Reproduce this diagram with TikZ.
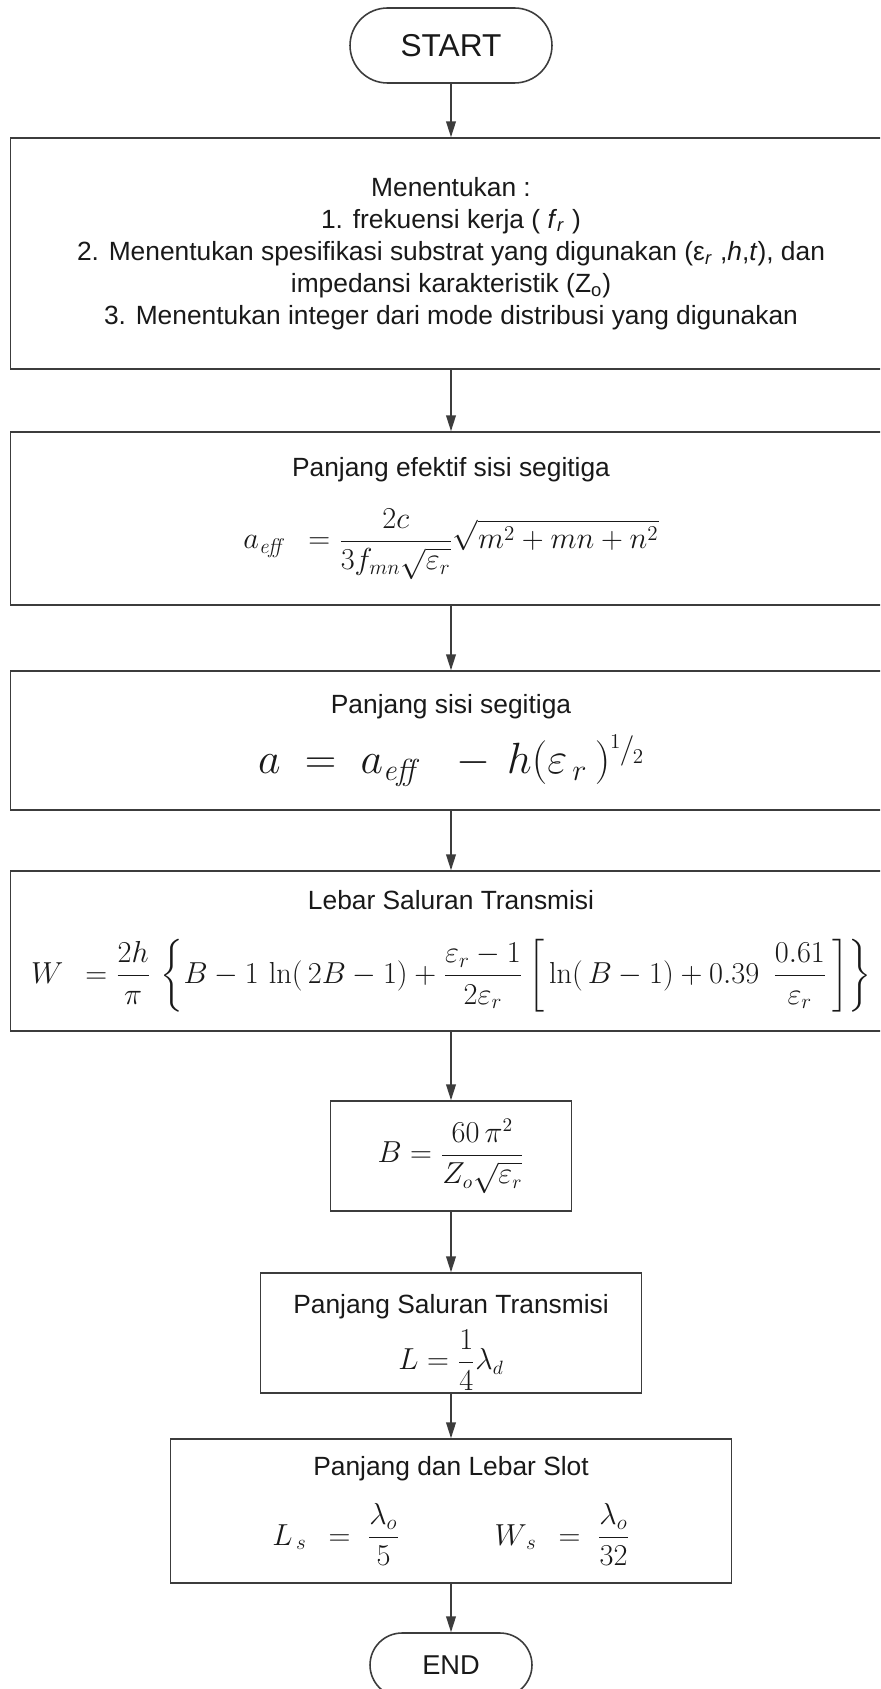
\documentclass[tikz,border=0pt]{standalone}
\usepackage{amsmath}
\usepackage[no-math]{fontspec}
\setmainfont{Liberation Sans}
\usepackage{tikz}
\usetikzlibrary{shapes.misc, arrows.meta}

\definecolor{linegray}{HTML}{3C3C3C}
\newcommand{\halfexp}{\raisebox{0.45ex}{$\scriptscriptstyle 1$}\kern-0.5pt{\scriptstyle/}\kern-1pt\raisebox{-0.25ex}{$\scriptscriptstyle 2$}}

\begin{document}
\begin{tikzpicture}[x=0.02cm, y=-0.02cm,
  every node/.style={font=\fontsize{15}{18.3}\selectfont, text=black!90},
  box/.style={draw=linegray, line width=0.9pt, align=center, inner sep=0pt},
  term/.style={rounded rectangle, draw=linegray, line width=0.9pt, inner sep=0pt},
  flow/.style={-{Triangle[length=9pt,width=5.5pt]}, draw=linegray, line width=0.9pt}]
  \useasboundingbox (0,0) rectangle (880,1689);
  \clip (0,0) rectangle (880,1689);
  \fill[white] (0,0) rectangle (880,1689);
  % terminals
  \node[term, minimum width=4.04cm, minimum height=1.5cm, font=\fontsize{18}{20}\selectfont] (start) at (451,45.5) {START};
  \node[term, minimum width=3.24cm, minimum height=1.28cm, font=\fontsize{15.5}{18}\selectfont] (end) at (451,1665) {END};
  % process boxes
  \node[box, minimum width=17.62cm, minimum height=4.62cm] (input) at (451,253.5)
    {Menentukan :\\
     1. frekuensi kerja ( \textit{f}\textsubscript{\textit{r}} )\\
     2. Menentukan spesifikasi substrat yang digunakan (ε\textsubscript{\textit{r}} ,\textit{h},\textit{t}), dan\\
     impedansi karakteristik (Z\textsubscript{o})\\
     3. Menentukan integer dari mode distribusi yang digunakan};
  \node[box, minimum width=17.62cm, minimum height=3.46cm] (aeff) at (451,518.5)
    {Panjang efektif sisi segitiga\\[14pt]
     \fontsize{16.6}{18}\selectfont $\displaystyle a_{\mathit{eff}}\;\, = \frac{2c}{3f_{mn}\sqrt{\varepsilon_r}}\sqrt{m^2+mn+n^2}$};
  \node[box, minimum width=17.62cm, minimum height=2.78cm] (side) at (451,740.5)
    {Panjang sisi segitiga\\[8pt]
     \fontsize{23}{26}\selectfont $a \;=\; a_{\mathit{eff}}\;\;-\,h(\varepsilon_{\,r}\,)^{\halfexp}$};
  \node[box, minimum width=17.62cm, minimum height=3.2cm] (width) at (451,951)
    {Lebar Saluran Transmisi\\[16pt]
     \fontsize{18.7}{20}\selectfont $\displaystyle W\;\, = \frac{2h}{\pi}\,\left\{B-1\,\ln(\,2B-1)+\frac{\varepsilon_r-1}{2\varepsilon_r}\left[\,\ln(\,B-1)+0.39\;\,\frac{0.61}{\varepsilon_r}\,\right]\right\}$};
  \node[box, minimum width=4.82cm, minimum height=2.2cm] (bval) at (451,1156)
    {\fontsize{16}{18}\selectfont $\displaystyle B = \frac{60\,\pi^2}{Z_o\sqrt{\varepsilon_r}}$};
  \node[box, minimum width=7.62cm, minimum height=2.4cm] (length) at (451,1333)
    {\rule{0pt}{22pt}Panjang Saluran Transmisi\\[5pt]
     \fontsize{16}{18}\selectfont $\displaystyle L = \frac{1}{4}\lambda_d$};
  \node[box, minimum width=11.22cm, minimum height=2.88cm] (slot) at (451,1511)
    {Panjang dan Lebar Slot\\[12pt]
     \fontsize{18}{20}\selectfont $\displaystyle L_{\,s}\;\, = \;\frac{\lambda_o}{5}\qquad\quad W_{\,s}\;\, = \;\frac{\lambda_o}{32}$};
  % connectors
  \draw[flow] (start) -- (input);
  \draw[flow] (input) -- (aeff);
  \draw[flow] (aeff) -- (side);
  \draw[flow] (side) -- (width);
  \draw[flow] (width) -- (bval);
  \draw[flow] (bval) -- (length);
  \draw[flow] (length) -- (slot);
  \draw[flow] (slot) -- (end);
\end{tikzpicture}
\end{document}
